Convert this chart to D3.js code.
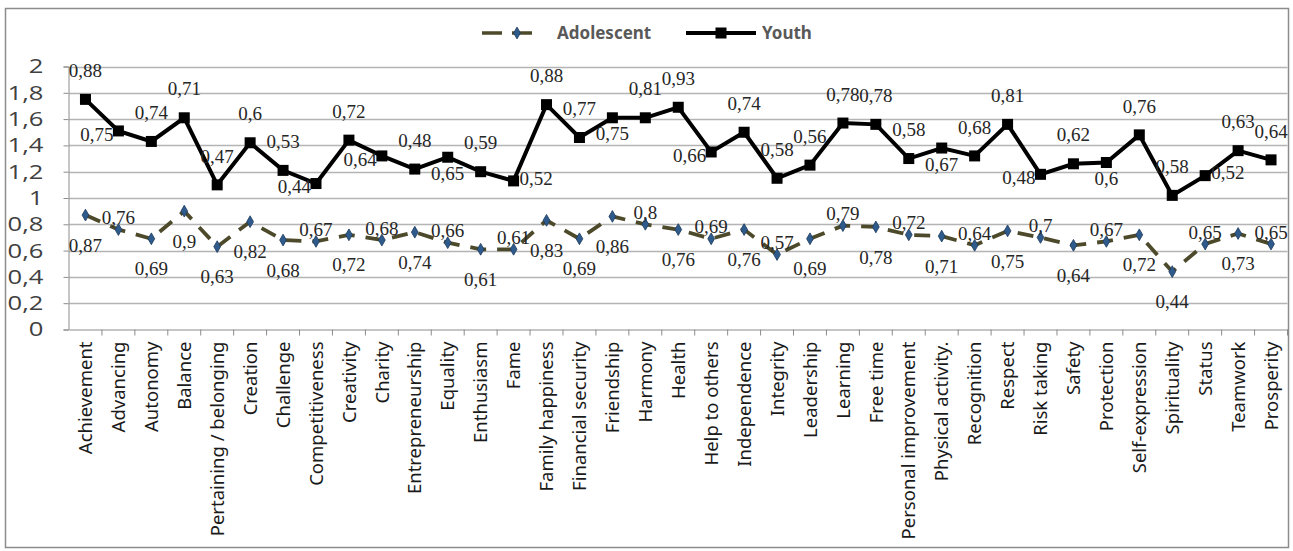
<!DOCTYPE html>
<html>
<head>
<meta charset="utf-8">
<script src="https://cdn.jsdelivr.net/npm/d3@7"></script>
<style>
  body { margin: 0; background: #fff; }
  svg { display: block; }
</style>
</head>
<body>
<div id="chart"></div>
<script>
// chart data (Youth is stacked on top of Adolescent)
var categories = ['Achievement', 'Advancing', 'Autonomy', 'Balance', 'Pertaining / belonging', 'Creation',
    'Challenge', 'Competitiveness', 'Creativity', 'Charity', 'Entrepreneurship', 'Equality', 'Enthusiasm',
    'Fame', 'Family happiness', 'Financial security', 'Friendship', 'Harmony', 'Health', 'Help to others',
    'Independence', 'Integrity', 'Leadership', 'Learning', 'Free time', 'Personal improvement',
    'Physical activity.', 'Recognition', 'Respect', 'Risk taking', 'Safety', 'Protection', 'Self-expression',
    'Spirituality', 'Status', 'Teamwork', 'Prosperity'];

var adolescent = [0.87, 0.76, 0.69, 0.9, 0.63, 0.82, 0.68, 0.67, 0.72, 0.68, 0.74, 0.66, 0.61, 0.61, 0.83,
    0.69, 0.86, 0.8, 0.76, 0.69, 0.76, 0.57, 0.69, 0.79, 0.78, 0.72, 0.71, 0.64, 0.75, 0.7, 0.64, 0.67,
    0.72, 0.44, 0.65, 0.73, 0.65];

var youth = [0.88, 0.75, 0.74, 0.71, 0.47, 0.6, 0.53, 0.44, 0.72, 0.64, 0.48, 0.65, 0.59, 0.52, 0.88,
    0.77, 0.75, 0.81, 0.93, 0.66, 0.74, 0.58, 0.56, 0.78, 0.78, 0.58, 0.67, 0.68, 0.81, 0.48, 0.62, 0.6,
    0.76, 0.58, 0.52, 0.63, 0.64];

var yTicks = [0, 0.2, 0.4, 0.6, 0.8, 1, 1.2, 1.4, 1.6, 1.8, 2];

// which side of the point each data label sits on (a = above, b = below, l = left, r = right)
var adolescentSides = 'b a b b b b b a b a b a b a b b b a b a b a b a b a b a b a b a b b a b a'.split(' ');
var youthSides = 'a l a a a a a l a l a b a r a a b a a l a a a a a a b a a l a b a a r a a'.split(' ');

var W = 1293, H = 551;

var svg = d3.select('#chart').append('svg')
    .attr('width', W)
    .attr('height', H);

svg.append('rect')
    .attr('width', W).attr('height', H)
    .attr('fill', '#fff');

// outer chart frame
svg.append('rect')
    .attr('x', 5.5).attr('y', 8.5)
    .attr('width', 1283).attr('height', 539)
    .attr('fill', 'none')
    .attr('stroke', '#8c8c8c')
    .attr('stroke-width', 1.5);

var xScale = d3.scaleBand().domain(categories).range([69, 1287.5]);
var yScale = d3.scaleLinear().domain([0, 2]).range([329.5, 66.5]);

var fmt = function (v) { return d3.format('.2~f')(v).replace('.', ','); };

function cx(d, i) { return xScale(categories[i]) + xScale.bandwidth() / 2; }

var stacked = adolescent.map(function (a, i) { return +(a + youth[i]).toFixed(2); });

// gridlines
svg.append('g')
    .selectAll('line')
    .data(yTicks.slice(1))
    .join('line')
    .attr('x1', 69).attr('x2', 1287.5)
    .attr('y1', function (d) { return Math.round(yScale(d)) + 0.5; })
    .attr('y2', function (d) { return Math.round(yScale(d)) + 0.5; })
    .attr('stroke', '#b4b4b4')
    .attr('stroke-width', 1.3);

// y axis
var yAxis = svg.append('g')
    .attr('transform', 'translate(68.5,0)')
    .call(d3.axisLeft(yScale).tickValues(yTicks).tickSize(5).tickPadding(0).tickFormat(fmt));
yAxis.select('.domain').attr('stroke', '#8c8c8c');
yAxis.selectAll('.tick line').attr('stroke', '#8c8c8c');
yAxis.selectAll('.tick text')
    .attr('x', -25 / 1.28)
    .attr('transform', 'scale(1.28,1)')
    .attr('font-family', '"Open Sans", sans-serif')
    .attr('font-size', 20)
    .attr('fill', '#404040');

// x axis
var xAxis = svg.append('g')
    .attr('transform', 'translate(0,' + (yScale(0)) + ')')
    .call(d3.axisBottom(xScale).tickSize(0).tickSizeOuter(0));
xAxis.select('.domain').attr('stroke', '#8c8c8c');
xAxis.selectAll('.tick text')
    .attr('transform', 'rotate(-90)')
    .attr('x', -12)
    .attr('y', 0)
    .attr('dy', '0.36em')
    .attr('text-anchor', 'end')
    .attr('font-family', '"Noto Sans", sans-serif')
    .attr('font-size', 18.5)
    .attr('fill', '#1a1a1a');

// tick marks between categories
var boundaries = categories.map(function (c) { return xScale(c); }).concat([xScale.range()[1]]);
svg.append('g')
    .selectAll('line')
    .data(boundaries.slice(1))
    .join('line')
    .attr('x1', function (d) { return d; }).attr('x2', function (d) { return d; })
    .attr('y1', yScale(0)).attr('y2', yScale(0) + 6)
    .attr('stroke', '#8c8c8c');

// Adolescent series
var adolLine = d3.line()
    .x(function (d, i) { return cx(d, i); })
    .y(function (d) { return yScale(d); });

svg.append('path')
    .attr('d', adolLine(adolescent))
    .attr('fill', 'none')
    .attr('stroke', '#4d4a2c')
    .attr('stroke-width', 3.8)
    .attr('stroke-dasharray', '16,11');

svg.append('g')
    .selectAll('path')
    .data(adolescent)
    .join('path')
    .attr('d', d3.symbol(d3.symbolDiamond, 40))
    .attr('transform', function (d, i) { return 'translate(' + cx(d, i) + ',' + yScale(d) + ')'; })
    .attr('fill', '#2f5b8c')
    .attr('stroke', '#1d3a5c')
    .attr('stroke-width', 0.8);

// Youth series (stacked)
svg.append('path')
    .attr('d', adolLine(stacked))
    .attr('fill', 'none')
    .attr('stroke', '#000')
    .attr('stroke-width', 4);

svg.append('g')
    .selectAll('rect')
    .data(stacked)
    .join('rect')
    .attr('x', function (d, i) { return cx(d, i) - 5.5; })
    .attr('y', function (d) { return yScale(d) - 5.5; })
    .attr('width', 11).attr('height', 11)
    .attr('fill', '#000');

// data labels
function drawLabels(values, positions, sides, offsets) {
    svg.append('g')
        .selectAll('text')
        .data(values)
        .join('text')
        .attr('x', function (d, i) {
            var s = sides[i];
            var x = cx(d, i);
            if (s === 'l') return x - 5;
            if (s === 'r') return x + 6;
            return x;
        })
        .attr('y', function (d, i) {
            var s = sides[i];
            return yScale(positions[i]) + offsets[s];
        })
        .attr('dy', '0.35em')
        .attr('text-anchor', function (d, i) {
            var s = sides[i];
            return s === 'l' ? 'end' : (s === 'r' ? 'start' : 'middle');
        })
        .attr('font-family', '"Liberation Serif", serif')
        .attr('font-size', 19)
        .attr('fill', '#262626')
        .text(fmt);
}

drawLabels(adolescent, adolescent, adolescentSides, { a: -12, b: 30, l: 2, r: -2 });
drawLabels(youth, stacked, youthSides, { a: -29, b: 16, l: 3, r: -3 });

// legend
var legend = svg.append('g');
legend.append('line')
    .attr('x1', 482).attr('x2', 537).attr('y1', 33).attr('y2', 33)
    .attr('stroke', '#4d4a2c').attr('stroke-width', 3.5)
    .attr('stroke-dasharray', '20,10');
legend.append('path')
    .attr('d', d3.symbol(d3.symbolDiamond, 40))
    .attr('transform', 'translate(517,33)')
    .attr('fill', '#2f5b8c')
    .attr('stroke', '#1d3a5c')
    .attr('stroke-width', 0.8);
legend.append('text')
    .attr('x', 557).attr('y', 33).attr('dy', '0.35em')
    .attr('font-family', '"Noto Sans", sans-serif')
    .attr('font-size', 17)
    .attr('font-weight', 'bold')
    .attr('fill', '#595959')
    .text('Adolescent');

legend.append('line')
    .attr('x1', 686).attr('x2', 756).attr('y1', 33).attr('y2', 33)
    .attr('stroke', '#000').attr('stroke-width', 4);
legend.append('rect')
    .attr('x', 715.5).attr('y', 27.5).attr('width', 11).attr('height', 11)
    .attr('fill', '#000');
legend.append('text')
    .attr('x', 762).attr('y', 33).attr('dy', '0.35em')
    .attr('font-family', '"Noto Sans", sans-serif')
    .attr('font-size', 17)
    .attr('font-weight', 'bold')
    .attr('fill', '#595959')
    .text('Youth');
</script>
</body>
</html>
